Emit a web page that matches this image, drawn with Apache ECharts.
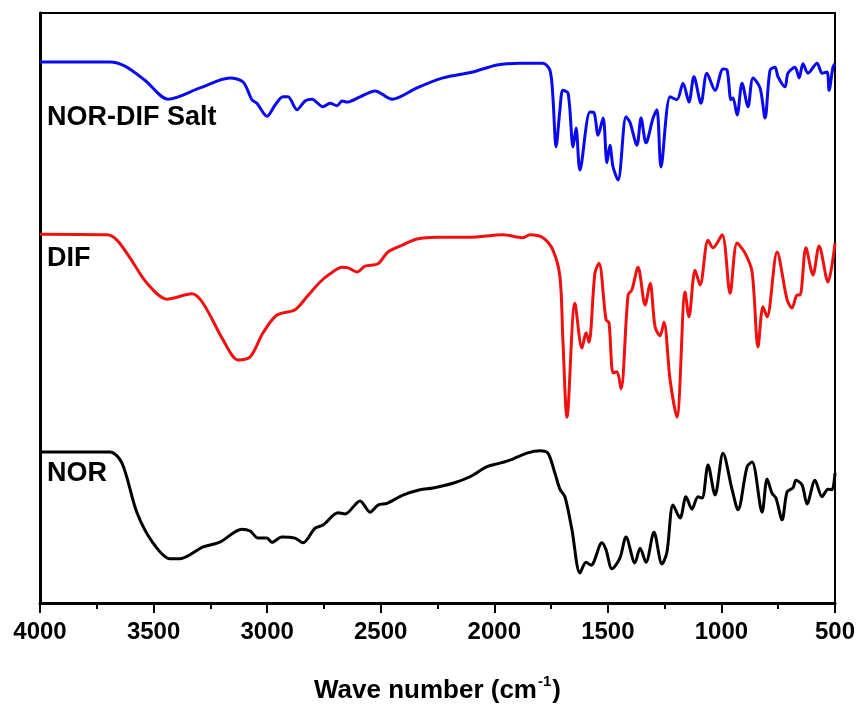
<!DOCTYPE html>
<html>
<head>
<meta charset="utf-8">
<script src="https://cdn.jsdelivr.net/npm/echarts@6/dist/echarts.min.js"></script>
<style>
html,body{margin:0;padding:0;background:#fff;}
#chart{width:863px;height:706px;}
</style>
</head>
<body>
<div id="chart"></div>
<script>
// Wavenumber (cm-1) / relative transmittance (arbitrary offset units)
const xTicks = [4000, 3500, 3000, 2500, 2000, 1500, 1000, 500];
const seriesNames = ['NOR-DIF Salt', 'DIF', 'NOR'];

const salt = [
[4000,91.7],[3692,91.7],[3626,91.0],[3538,88.6],[3436,85.4],[3296,87.3],[3164,89.0],[3106,88.3],
[3067,85.3],[3045,84.7],[3001,82.5],[2965,84.4],[2930,85.8],[2908,85.8],[2869,83.6],[2833,85.1],
[2803,85.4],[2754,84.1],[2723,84.7],[2692,84.3],[2670,85.1],[2648,84.9],[2591,85.8],[2525,86.8],
[2450,85.4],[2415,85.8],[2340,87.3],[2226,89.0],[2094,90.0],[1988,91.2],[1887,91.5],[1786,91.5],
[1755,90.3],[1742,85.8],[1728,77.3],[1711,83.6],[1698,86.9],[1675,86.4],[1653,77.3],[1640,80.5],
[1623,73.4],[1579,83.2],[1561,83.1],[1543,79.3],[1521,82.2],[1504,74.6],[1491,77.6],[1477,73.9],
[1455,71.7],[1420,82.4],[1403,81.5],[1372,77.6],[1354,82.2],[1332,78.0],[1301,82.2],[1284,83.6],
[1266,73.9],[1226,85.8],[1196,85.3],[1169,88.1],[1143,84.9],[1121,89.2],[1090,84.7],[1064,89.8],
[1028,86.9],[993,90.5],[975,90.3],[958,85.3],[949,85.6],[931,82.7],[909,88.1],[883,84.1],
[861,89.0],[830,87.3],[808,82.2],[786,90.3],[764,90.8],[751,89.2],[720,87.5],[707,89.8],
[676,90.8],[658,89.0],[641,91.4],[619,89.8],[579,91.5],[557,89.8],[535,90.0],[526,86.9],
[509,90.8],[500,91.4]
];

const dif = [
[4000,62.5],[3705,62.4],[3661,61.5],[3604,58.5],[3529,54.2],[3441,51.5],[3331,52.4],[3282,50.8],
[3194,44.6],[3128,41.2],[3075,41.7],[3018,45.8],[2957,48.8],[2877,49.7],[2825,51.9],[2767,54.4],
[2723,55.8],[2670,56.9],[2644,56.8],[2604,56.1],[2569,57.1],[2512,57.5],[2468,59.5],[2402,60.7],
[2340,61.7],[2252,62.0],[2107,62.0],[1962,62.4],[1874,61.9],[1843,62.4],[1786,61.9],[1742,59.8],
[1711,55.3],[1698,44.6],[1680,31.5],[1645,50.8],[1614,43.2],[1596,45.8],[1583,44.2],[1557,55.9],
[1539,57.6],[1508,48.0],[1495,47.5],[1477,39.0],[1460,39.2],[1442,36.3],[1411,52.2],[1394,53.1],
[1367,56.9],[1336,50.5],[1314,54.2],[1292,46.8],[1270,45.3],[1253,47.6],[1226,37.8],[1196,31.5],
[1160,52.7],[1143,48.5],[1116,56.4],[1094,53.9],[1059,61.5],[1037,60.2],[997,62.4],[962,52.5],
[931,61.0],[896,59.3],[865,56.1],[839,43.4],[817,50.2],[799,48.5],[755,59.5],[711,51.4],
[689,50.0],[667,52.2],[654,52.2],[628,60.2],[597,55.6],[570,60.5],[531,54.4],[500,61.0]
];

const nor = [
[4000,25.6],[3692,25.6],[3639,23.7],[3573,15.3],[3503,10.2],[3428,7.5],[3384,7.5],[3282,9.5],
[3208,10.3],[3111,12.5],[3075,12.2],[3040,11.0],[3001,11.0],[2979,10.3],[2935,11.2],[2877,11.0],
[2842,10.2],[2789,12.7],[2754,13.2],[2688,15.3],[2657,15.1],[2591,17.3],[2547,15.4],[2512,16.6],
[2472,16.9],[2402,18.3],[2327,19.2],[2270,19.5],[2182,20.3],[2107,21.4],[2032,23.1],[1975,23.7],
[1918,24.4],[1856,25.4],[1799,25.8],[1764,25.4],[1733,22.0],[1711,19.3],[1689,18.0],[1658,12.4],
[1623,5.1],[1596,6.9],[1574,6.4],[1526,10.2],[1508,9.0],[1482,5.8],[1447,7.6],[1420,11.2],
[1381,6.8],[1358,9.3],[1332,6.9],[1297,12.0],[1262,6.6],[1240,8.6],[1213,16.6],[1182,14.4],
[1156,18.0],[1130,15.9],[1103,18.0],[1085,17.8],[1059,23.4],[1028,18.3],[993,25.4],[953,19.2],
[927,15.8],[887,23.1],[865,23.9],[821,15.4],[799,21.0],[777,18.6],[760,17.8],[733,14.1],
[711,18.8],[685,19.5],[672,20.8],[645,20.0],[623,16.8],[588,20.8],[557,18.0],[531,19.3],
[513,19.2],[500,22.0]
];

const chart = echarts.init(document.getElementById('chart'), null, {renderer:'canvas'});
const FONT = '"Liberation Sans", Arial, sans-serif';

function lineSeries(name, data, color){
  return {
    name, type:'line', data, showSymbol:false, smooth:0.3,
    lineStyle:{color, width:3}, itemStyle:{color}, silent:true, animation:false
  };
}

chart.setOption({
  animation:false,
  grid:{left:40, right:28, top:13, bottom:103, containLabel:false, outerBoundsMode:'none',
    show:true, borderColor:'#000', borderWidth:2, backgroundColor:'transparent'},
  xAxis:{
    type:'value', min:500, max:4000, interval:500, inverse:true,
    axisLine:{show:true, lineStyle:{color:'#000', width:3}},
    axisTick:{show:true, length:10, lineStyle:{color:'#000', width:2}},
    minorTick:{show:true, splitNumber:2, length:6, lineStyle:{color:'#000', width:2}},
    splitLine:{show:false},
    axisLabel:{color:'#000', fontFamily:FONT, fontWeight:'bold', fontSize:24, margin:17,
      formatter: v => xTicks.includes(v) ? String(v) : ''},
    name:'{a|Wave number (cm}{s|-1}{a|)}',
    nameLocation:'middle', nameGap:71,
    nameTextStyle:{
      rich:{
        a:{fontFamily:FONT, fontWeight:'bold', fontSize:26, color:'#000', verticalAlign:'bottom', lineHeight:30},
        s:{fontFamily:FONT, fontWeight:'bold', fontSize:15, color:'#000', verticalAlign:'top', lineHeight:30, padding:[0,1,12,1]}
      }
    }
  },
  yAxis:{
    type:'value', min:0, max:100,
    axisLine:{show:true, lineStyle:{color:'#000', width:3}},
    axisTick:{show:false}, axisLabel:{show:false}, splitLine:{show:false}
  },
  series:[
    lineSeries(seriesNames[0], salt, '#0a0aee'),
    lineSeries(seriesNames[1], dif, '#f01010'),
    lineSeries(seriesNames[2], nor, '#000000')
  ],
  graphic:[
    {type:'text', left:47, top:104, style:{text:seriesNames[0], font:'bold 27px '+FONT, fill:'#000'}},
    {type:'text', left:47, top:245, style:{text:seriesNames[1], font:'bold 27px '+FONT, fill:'#000'}},
    {type:'text', left:47, top:460, style:{text:seriesNames[2], font:'bold 27px '+FONT, fill:'#000'}}
  ]
});
</script>
</body>
</html>
